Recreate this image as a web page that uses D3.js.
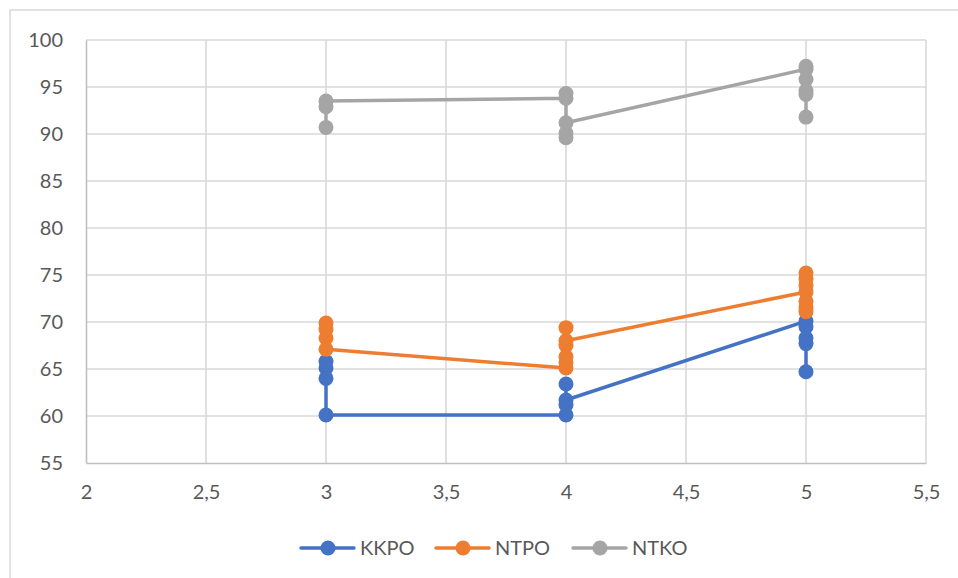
<!DOCTYPE html>
<html><head><meta charset="utf-8">
<script src="https://cdn.jsdelivr.net/npm/d3@7"></script>
<style>body{margin:0;background:#fff;}svg{display:block;font-family:Lato,"Open Sans",sans-serif;}</style>
</head><body><svg id="c" width="958" height="578"></svg>
<script>
const seriesNames = ["KKPO", "NTPO", "NTKO"];
const seriesColors = ["#4472C4", "#ED7D31", "#A5A5A5"];
const kkpoX = [3,3,3,3, 4,4,4,4, 5,5,5,5,5];
const kkpoY = [65.8,65.1,64.0,60.1, 60.1,63.4,61.2,61.7, 70.1,69.5,68.3,67.7,64.7];
const ntpoX = [3,3,3,3, 4,4,4,4,4,4, 5,5,5,5,5,5,5];
const ntpoY = [69.9,69.2,68.3,67.1, 65.1,65.7,66.3,67.5,69.4,68.0, 73.2,75.2,74.6,73.9,72.2,71.6,71.1];
const ntkoX = [3,3,3, 4,4,4,4,4, 5,5,5,5,5,5];
const ntkoY = [90.7,92.9,93.5, 93.8,94.3,89.6,90.1,91.2, 96.9,97.2,95.8,94.6,94.2,91.8];
const xTicks = [2,2.5,3,3.5,4,4.5,5,5.5];
const yTicks = [55,60,65,70,75,80,85,90,95,100];

const series = [
  {name: seriesNames[0], color: seriesColors[0], xs: kkpoX, ys: kkpoY},
  {name: seriesNames[1], color: seriesColors[1], xs: ntpoX, ys: ntpoY},
  {name: seriesNames[2], color: seriesColors[2], xs: ntkoX, ys: ntkoY}
];

const svg = d3.select("#c");
// chart frame (only top and left edges visible)
svg.append("path").attr("d","M10,578V10H958").attr("fill","none").attr("stroke","#d9d9d9").attr("stroke-width",1.5);

const x = d3.scaleLinear().domain([2,5.5]).range([86,926]);
const y = d3.scaleLinear().domain([55,100]).range([463,40]);

// gridlines
svg.append("g").selectAll("line").data(yTicks.slice(1)).join("line")
  .attr("x1",86).attr("x2",926).attr("y1",d=>y(d)).attr("y2",d=>y(d))
  .attr("stroke","#d9d9d9").attr("stroke-width",1.6);
svg.append("g").selectAll("line").data(xTicks.slice(1)).join("line")
  .attr("y1",40).attr("y2",463).attr("x1",d=>x(d)).attr("x2",d=>x(d))
  .attr("stroke","#d9d9d9").attr("stroke-width",1.6);

// axes
const yAxis = d3.axisLeft(y).tickValues(yTicks).tickSize(0).tickPadding(23).tickFormat(d=>d);
const gy = svg.append("g").attr("transform","translate(86,0)").call(yAxis);
gy.select(".domain").attr("stroke","#bfbfbf").attr("stroke-width",1.6);
gy.selectAll("text").attr("font-size",20).attr("fill","#595959").attr("font-family","Lato");

const xAxis = d3.axisBottom(x).tickValues(xTicks).tickSize(0).tickPadding(22)
  .tickFormat(d=>String(d).replace(".",","));
const gx = svg.append("g").attr("transform","translate(0,463)").call(xAxis);
gx.select(".domain").attr("stroke","#bfbfbf").attr("stroke-width",1.6);
gx.selectAll("text").attr("font-size",20).attr("fill","#595959").attr("font-family","Lato");

// series
const line = d3.line().x(d=>x(d[0])).y(d=>y(d[1]));
series.forEach(s=>{
  const pts = s.xs.map((v,i)=>[v, s.ys[i]]);
  const g = svg.append("g");
  g.append("path").datum(pts).attr("d",line).attr("fill","none")
    .attr("stroke",s.color).attr("stroke-width",3.5).attr("stroke-linejoin","round");
  g.selectAll("circle").data(pts).join("circle")
    .attr("cx",d=>x(d[0])).attr("cy",d=>y(d[1])).attr("r",7.5).attr("fill",s.color);
});

// legend
const legX = [301, 436, 573];
const lg = svg.append("g");
series.forEach((s,i)=>{
  const g = lg.append("g").attr("transform",`translate(${legX[i]},548)`);
  g.append("line").attr("x1",0).attr("x2",53).attr("stroke",s.color).attr("stroke-width",3.5).attr("stroke-linecap","round");
  g.append("circle").attr("cx",27).attr("r",7.5).attr("fill",s.color);
  g.append("text").attr("x",59).attr("dy","0.36em").attr("font-size",20).attr("fill","#595959")
    .attr("font-family","Lato").text(s.name);
});
</script></body></html>
